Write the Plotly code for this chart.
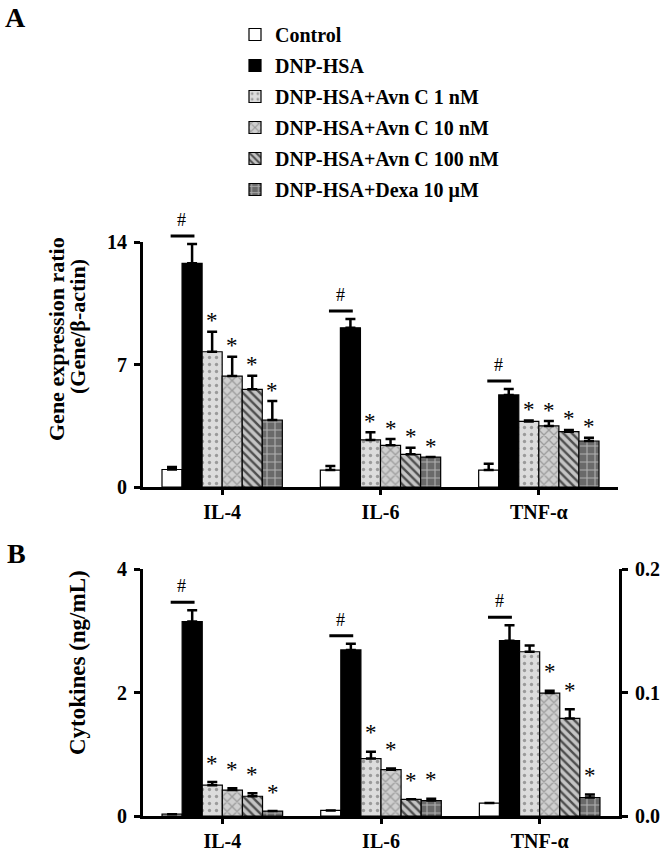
import plotly.graph_objects as go

# ---------------- data ----------------
categories = ["IL-4", "IL-6", "TNF-α"]
series_names = ["Control", "DNP-HSA", "DNP-HSA+Avn C 1 nM", "DNP-HSA+Avn C 10 nM",
                "DNP-HSA+Avn C 100 nM", "DNP-HSA+Dexa 10 μM"]

# Panel A: gene expression ratio (Gene/β-actin), order IL-4, IL-6, TNF-α
gene_control = [1.00, 0.97, 0.97]
gene_control_err = [0.15, 0.23, 0.36]
gene_dnp = [12.78, 9.10, 5.26]
gene_dnp_err = [1.10, 0.50, 0.34]
gene_avn1 = [7.73, 2.69, 3.75]
gene_avn1_err = [1.14, 0.44, 0.05]
gene_avn10 = [6.34, 2.38, 3.49]
gene_avn10_err = [1.10, 0.36, 0.28]
gene_avn100 = [5.58, 1.87, 3.16]
gene_avn100_err = [0.78, 0.38, 0.10]
gene_dexa = [3.83, 1.71, 2.63]
gene_dexa_err = [1.08, 0.00, 0.19]

# Panel B: cytokines, IL-4 and IL-6 on left axis (ng/mL)
il_categories = ["IL-4", "IL-6"]
cyto_control = [0.03, 0.09]
cyto_control_err = [0.0, 0.0]
cyto_dnp = [3.15, 2.69]
cyto_dnp_err = [0.18, 0.10]
cyto_avn1 = [0.50, 0.93]
cyto_avn1_err = [0.05, 0.11]
cyto_avn10 = [0.42, 0.75]
cyto_avn10_err = [0.03, 0.02]
cyto_avn100 = [0.32, 0.27]
cyto_avn100_err = [0.05, 0.0]
cyto_dexa = [0.08, 0.25]
cyto_dexa_err = [0.0, 0.03]

# Panel B: TNF-α on right axis
tnf_category = ["TNF-α"]
tnf_values = [0.0105, 0.142, 0.133, 0.0995, 0.079, 0.015]
tnf_errors = [0.0, 0.0125, 0.005, 0.002, 0.0075, 0.0025]

# significance marks (per series: which categories get '*')
star_A = [[False] * 3, [False] * 3, [True] * 3, [True] * 3, [True] * 3, [True] * 3]
star_B_il = [[False] * 2, [False] * 2, [True] * 2, [True] * 2, [True] * 2, [True] * 2]
star_B_tnf = [False, False, False, True, True, True]

# ---------------- styles ----------------
FONT = "Liberation Serif"
bg_colors = ["#ffffff", "#000000", "#dcdcdc", "#cfcfcf", "#c4c4c4", "#6a6a6a"]
fg_colors = ["#ffffff", "#000000", "#9a9a9a", "#9c9c9c", "#4e4e4e", "#b0b0b0"]
shapes_pat = ["", "", ".", "x", "\\", "+"]
pat_size = [8, 8, 7, 7, 6, 8]
pat_sol = [0.2, 0.2, 0.18, 0.35, 0.4, 0.25]

BARGAP = 0.24
slot = (1 - BARGAP) / 6

gene_vals = [gene_control, gene_dnp, gene_avn1, gene_avn10, gene_avn100, gene_dexa]
gene_errs = [gene_control_err, gene_dnp_err, gene_avn1_err, gene_avn10_err, gene_avn100_err, gene_dexa_err]
cyto_vals = [cyto_control, cyto_dnp, cyto_avn1, cyto_avn10, cyto_avn100, cyto_dexa]
cyto_errs = [cyto_control_err, cyto_dnp_err, cyto_avn1_err, cyto_avn10_err, cyto_avn100_err, cyto_dexa_err]


def marker(k):
    m = dict(color=bg_colors[k], line=dict(color="black", width=1.2))
    if shapes_pat[k]:
        m["pattern"] = dict(shape=shapes_pat[k], bgcolor=bg_colors[k], fgcolor=fg_colors[k],
                            size=pat_size[k], solidity=pat_sol[k], fillmode="replace")
    return m


def err(e):
    return dict(type="data", array=e, arrayminus=[0] * len(e), symmetric=False,
                color="black", thickness=2.5, width=5)


fig = go.Figure()

for k, name in enumerate(series_names):
    fig.add_trace(go.Bar(x=categories, y=gene_vals[k], name=name, marker=marker(k),
                         error_y=err(gene_errs[k]), xaxis="x", yaxis="y",
                         offsetgroup=str(k), legendgroup=str(k), showlegend=True))
for k, name in enumerate(series_names):
    fig.add_trace(go.Bar(x=il_categories, y=cyto_vals[k], name=name, marker=marker(k),
                         error_y=err(cyto_errs[k]), xaxis="x2", yaxis="y2",
                         offsetgroup=str(k), legendgroup=str(k), showlegend=False))
for k, name in enumerate(series_names):
    fig.add_trace(go.Bar(x=tnf_category, y=[tnf_values[k]], name=name, marker=marker(k),
                         error_y=err([tnf_errors[k]]), xaxis="x2", yaxis="y3",
                         offsetgroup=str(k), legendgroup=str(k), showlegend=False))

annotations = []


def add_marks(xref, yref, idx, tops, stars, star_shift):
    # '#' with a bar line over control–DNP (arrow without head, not clipped)
    top_dnp = tops[1]
    annotations.append(dict(x=idx - 0.175, y=top_dnp, xref=xref, yref=yref,
                            ax=idx - 0.335, ay=top_dnp, axref=xref, ayref=yref,
                            text="", showarrow=True, arrowhead=0, arrowwidth=3,
                            arrowcolor="black", standoff=0, startstandoff=0, yshift=8))
    annotations.append(dict(x=idx - 0.255, y=top_dnp, xref=xref, yref=yref, text="#",
                            showarrow=False, yshift=24, xanchor="center", yanchor="middle",
                            font=dict(family=FONT, size=18, color="black")))
    for k in range(6):
        if stars[k]:
            annotations.append(dict(x=idx + (k - 2.5) * slot, y=tops[k], xref=xref, yref=yref,
                                    text="*", showarrow=False, yshift=star_shift,
                                    xanchor="center", yanchor="middle",
                                    font=dict(family=FONT, size=23, color="black")))


for i in range(3):
    tops = [gene_vals[k][i] + gene_errs[k][i] for k in range(6)]
    add_marks("x", "y", i, tops, [star_A[k][i] for k in range(6)], 11)
for i in range(2):
    tops = [cyto_vals[k][i] + cyto_errs[k][i] for k in range(6)]
    add_marks("x2", "y2", i, tops, [star_B_il[k][i] for k in range(6)], 19)
tops = [tnf_values[k] + tnf_errors[k] for k in range(6)]
add_marks("x2", "y3", 2, tops, star_B_tnf, 19)


def paper_text(x, y, text, size, angle=0):
    return dict(x=x / 664, y=1 - y / 854, xref="paper", yref="paper", text=text,
                showarrow=False, textangle=angle, xanchor="center", yanchor="middle",
                font=dict(family=FONT, size=size, color="black"))


# panel letters and axis titles
annotations += [
    paper_text(15, 17, "<b>A</b>", 28),
    paper_text(16, 553, "<b>B</b>", 28),
    paper_text(56, 339, "<b>Gene expression ratio</b>", 22, -90),
    paper_text(77, 327, "<b>(Gene/β-actin)</b>", 22, -90),
    paper_text(77, 663, "<b>Cytokines (ng/mL)</b>", 23, -90),
]

tickfont = dict(family=FONT, size=20, color="black", weight="bold")
ax_common = dict(showline=True, linewidth=3, linecolor="black", ticks="outside", tickwidth=2.5,
                 tickcolor="black", showgrid=False, zeroline=False, tickfont=tickfont)

fig.update_layout(
    width=664, height=854, template="none",
    margin=dict(l=0, r=0, t=0, b=0),
    paper_bgcolor="white", plot_bgcolor="white",
    barmode="group", bargap=BARGAP, bargroupgap=0,
    xaxis=dict(domain=[143 / 664, 618 / 664], anchor="y", type="category",
               categoryorder="array", categoryarray=categories, range=[-0.5, 2.5],
               ticklen=5, ticklabelstandoff=0, **ax_common),
    yaxis=dict(domain=[1 - 487 / 854, 1 - 242 / 854], anchor="x", range=[0, 14],
               tickvals=[0, 7, 14], ticklen=6, ticklabelstandoff=3, **ax_common),
    xaxis2=dict(domain=[143 / 664, 619 / 664], anchor="y2", type="category",
                categoryorder="array", categoryarray=categories, range=[-0.5, 2.5],
                ticklen=5, ticklabelstandoff=0, **ax_common),
    yaxis2=dict(domain=[1 - 816 / 854, 1 - 569 / 854], anchor="x2", range=[0, 4],
                tickvals=[0, 2, 4], ticklen=6, ticklabelstandoff=3, **ax_common),
    yaxis3=dict(overlaying="y2", side="right", anchor="x2", range=[0, 0.2],
                tickvals=[0, 0.1, 0.2], tickformat=".1f", ticklen=6, ticklabelstandoff=3,
                **ax_common),
    legend=dict(x=235 / 664, y=1 - 15 / 854, xanchor="left", yanchor="top",
                bgcolor="rgba(0,0,0,0)", traceorder="grouped", tracegroupgap=2,
                font=dict(family=FONT, size=20, color="black", weight="bold")),
    annotations=annotations,
)

fig.write_html(
    "out.html",
    config={"displayModeBar": False},
    post_script="document.body.style.margin='0px';document.body.style.overflow='hidden';",
)
